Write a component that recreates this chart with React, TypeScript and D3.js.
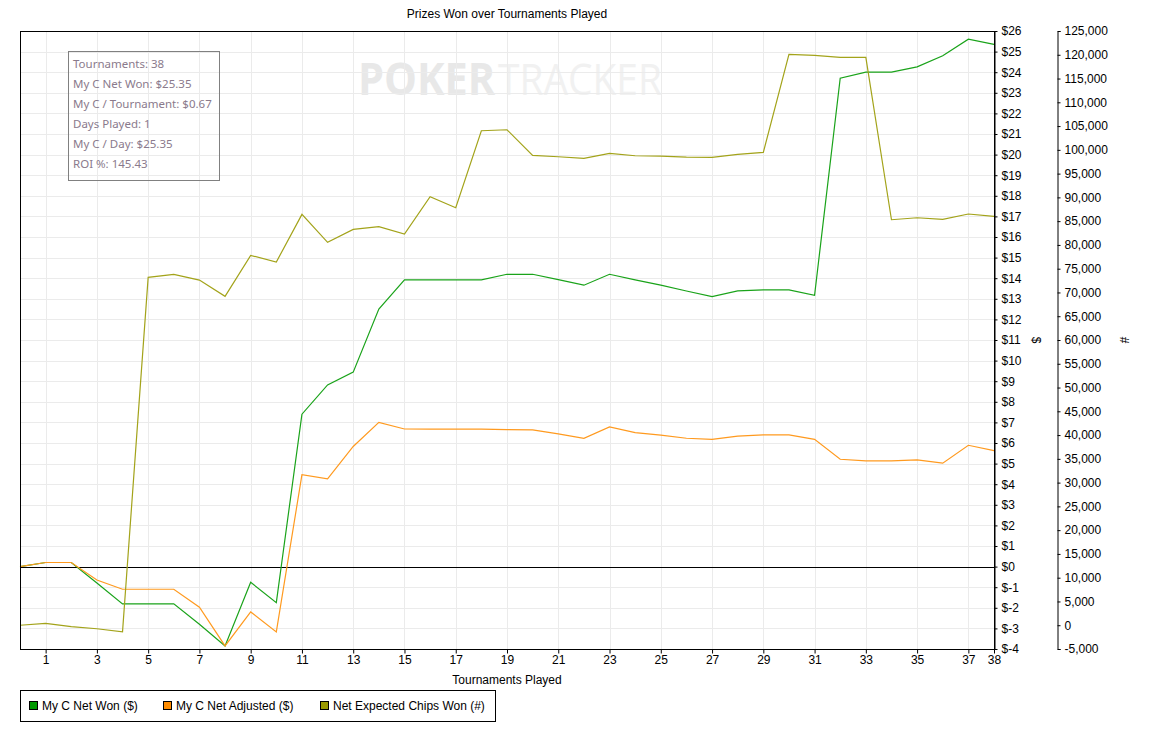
import { useEffect, useRef } from 'react';
import * as d3 from 'd3';

// values, one per tournament (index 0 = start)
const netWon = [
  0, 0.2, 0.2, -0.8, -1.81, -1.81, -1.81, -2.8, -3.85, -0.76, -1.75, 7.4, 8.82, 9.44, 12.5,
  13.92, 13.92, 13.92, 13.92, 14.19, 14.19, 13.93, 13.66, 14.19, 13.92, 13.66, 13.38, 13.11,
  13.38, 13.43, 13.43, 13.17, 23.71, 24.0, 24.0, 24.26, 24.8, 25.6, 25.35,
];
const netAdjusted = [
  0, 0.2, 0.2, -0.65, -1.1, -1.1, -1.1, -1.97, -3.85, -2.2, -3.17, 4.46, 4.26, 5.83, 7.0,
  6.68, 6.67, 6.67, 6.67, 6.65, 6.64, 6.44, 6.23, 6.78, 6.5, 6.38, 6.23, 6.18, 6.33, 6.39,
  6.39, 6.18, 5.21, 5.13, 5.13, 5.18, 5.02, 5.89, 5.63,
];
const expectedChips = [
  0, 400, -300, -740, -1370, 73180, 73800, 72610, 69180, 77800, 76400, 86430, 80540, 83270,
  83830, 82290, 90140, 87820, 104020, 104230, 98840, 98550, 98210, 99260, 98760, 98700, 98480,
  98420, 99050, 99470, 120090, 119880, 119460, 119460, 85300, 85720, 85380, 86500, 86010,
];

const xTicks = [1, 3, 5, 7, 9, 11, 13, 15, 17, 19, 21, 23, 25, 27, 29, 31, 33, 35, 37, 38];
const gridX = [1, 3, 5, 7, 9, 11, 13, 15, 17, 19, 21, 23, 25, 27, 29, 31, 33, 35, 37];
const dollarTicks = d3.range(-4, 27);
const chipTicks = d3.range(-5000, 125001, 5000);

const statLines = [
  'Tournaments: 38',
  'My C Net Won: $25.35',
  'My C / Tournament: $0.67',
  'Days Played: 1',
  'My C / Day: $25.35',
  'ROI %: 145.43',
];

const series = [
  { name: 'My C Net Won ($)', values: netWon, axis: 'usd', color: '#009900', line: '#1aa31a' },
  { name: 'My C Net Adjusted ($)', values: netAdjusted, axis: 'usd', color: '#ff8c00', line: '#ff9a1f' },
  { name: 'Net Expected Chips Won (#)', values: expectedChips, axis: 'chips', color: '#999900', line: '#a3a31a' },
];

const W = 1152;
const H = 740;
const FONT = '"Liberation Sans", Arial, sans-serif';

export default function App() {
  const ref = useRef<SVGSVGElement>(null);

  useEffect(() => {
    if (!ref.current) return;
    const svg = d3.select(ref.current);
    svg.selectAll('*').remove();

    const left = 20, right = 994, top = 31, bottom = 649;
    const x = d3.scaleLinear().domain([0, 38]).range([left, right]);
    const yUsd = d3.scaleLinear().domain([-4, 26]).range([bottom, top]);
    const yChips = d3.scaleLinear().domain([-5000, 125000]).range([bottom, top]);

    svg.append('rect').attr('width', W).attr('height', H).attr('fill', '#fff');

    // watermark
    const wm = svg.append('g').attr('font-family', '"Open Sans", "Noto Sans", sans-serif');
    wm.append('text')
      .attr('x', 358).attr('y', 95)
      .attr('font-size', 44).attr('font-weight', 700)
      .attr('fill', '#e8e8e8')
      .attr('textLength', 137).attr('lengthAdjust', 'spacingAndGlyphs')
      .text('POKER');
    wm.append('text')
      .attr('x', 498).attr('y', 95)
      .attr('font-size', 44)
      .attr('fill', '#f1f1f1')
      .attr('textLength', 164).attr('lengthAdjust', 'spacingAndGlyphs')
      .text('TRACKER');

    // grid
    const grid = svg.append('g').attr('stroke', '#ebebeb').attr('stroke-width', 1);
    grid.selectAll('line.v').data(gridX).enter().append('line')
      .attr('x1', (d) => Math.round(x(d)) + 0.5).attr('x2', (d) => Math.round(x(d)) + 0.5)
      .attr('y1', top).attr('y2', bottom);
    grid.selectAll('line.h').data(dollarTicks).enter().append('line')
      .attr('x1', left).attr('x2', right)
      .attr('y1', (d) => Math.round(yUsd(d)) + 0.5).attr('y2', (d) => Math.round(yUsd(d)) + 0.5);

    // zero line
    svg.append('line')
      .attr('x1', left).attr('x2', right)
      .attr('y1', Math.round(yUsd(0)) + 0.5).attr('y2', Math.round(yUsd(0)) + 0.5)
      .attr('stroke', '#000');

    // series
    series.forEach((s) => {
      const yS = s.axis === 'usd' ? yUsd : yChips;
      const line = d3.line<number>().x((_, i) => x(i)).y((d) => yS(d));
      svg.append('path')
        .datum(s.values)
        .attr('d', line)
        .attr('fill', 'none')
        .attr('stroke', s.line)
        .attr('stroke-width', 1.2);
    });

    // plot frame
    svg.append('rect')
      .attr('x', left + 0.5).attr('y', top + 0.5)
      .attr('width', right - left).attr('height', bottom - top)
      .attr('fill', 'none').attr('stroke', '#000');

    // axes
    const chipFmt = d3.format(',');
    const xAxis = svg.append('g')
      .attr('transform', `translate(0,${bottom + 0.5})`)
      .call(d3.axisBottom(x).tickValues(xTicks).tickSize(4).tickSizeOuter(0).tickFormat(d3.format('d')));
    const usdAxis = svg.append('g')
      .attr('transform', `translate(${right + 0.5},0)`)
      .call(d3.axisRight(yUsd).tickValues(dollarTicks).tickSize(3).tickSizeOuter(0).tickFormat((d) => `$${d}`));
    const chipAxis = svg.append('g')
      .attr('transform', `translate(1057.5,0)`)
      .call(
        d3.axisRight(yChips).tickValues(chipTicks).tickSize(3).tickSizeOuter(3)
          .tickFormat((d) => chipFmt(d as number).replace('\u2212', '-')),
      );
    [xAxis, usdAxis, chipAxis].forEach((a) => {
      a.selectAll('text').attr('font-family', FONT).attr('font-size', 12).attr('fill', '#000');
      a.selectAll('line,path').attr('stroke', '#000');
    });
    xAxis.select('.domain').remove();
    xAxis.selectAll('text').attr('dy', '0.6em');
    usdAxis.selectAll('text').attr('x', 7);
    chipAxis.selectAll('text').attr('x', 7);

    // titles
    const txt = svg.append('g').attr('font-family', FONT).attr('font-size', 12).attr('fill', '#000');
    txt.append('text').attr('x', (left + right) / 2).attr('y', 18).attr('text-anchor', 'middle')
      .text('Prizes Won over Tournaments Played');
    txt.append('text').attr('x', (left + right) / 2).attr('y', 684).attr('text-anchor', 'middle')
      .text('Tournaments Played');
    txt.append('text').attr('transform', 'translate(1032,340) rotate(90)').attr('text-anchor', 'middle').text('$');
    txt.append('text').attr('transform', 'translate(1120,340) rotate(90)').attr('text-anchor', 'middle').text('#');

    // stats box
    const box = svg.append('g');
    box.append('rect')
      .attr('x', 68.5).attr('y', 51.5).attr('width', 151).attr('height', 129)
      .attr('fill', 'none').attr('stroke', '#808080');
    box.selectAll('text').data(statLines).enter().append('text')
      .attr('x', 73).attr('y', (_, i) => 68 + i * 20)
      .attr('font-family', '"Noto Sans", "Open Sans", sans-serif')
      .attr('font-size', 11.5)
      .attr('fill', '#8a7a8c')
      .text((d) => d);

    // legend
    const lg = svg.append('g');
    lg.append('rect')
      .attr('x', 20.5).attr('y', 690.5).attr('width', 475).attr('height', 31)
      .attr('fill', '#fff').attr('stroke', '#000');
    const legendX = [29, 163, 320];
    series.forEach((s, i) => {
      lg.append('rect')
        .attr('x', legendX[i] + 0.5).attr('y', 701.5).attr('width', 8).attr('height', 8)
        .attr('fill', s.color).attr('stroke', '#000');
      lg.append('text')
        .attr('x', legendX[i] + 13).attr('y', 710)
        .attr('font-family', FONT).attr('font-size', 12).attr('fill', '#000')
        .text(s.name);
    });
  }, []);

  return (
    <div style={{ position: 'absolute', left: 0, top: 0 }}>
      <svg ref={ref} width={W} height={H} style={{ display: 'block' }} />
    </div>
  );
}
